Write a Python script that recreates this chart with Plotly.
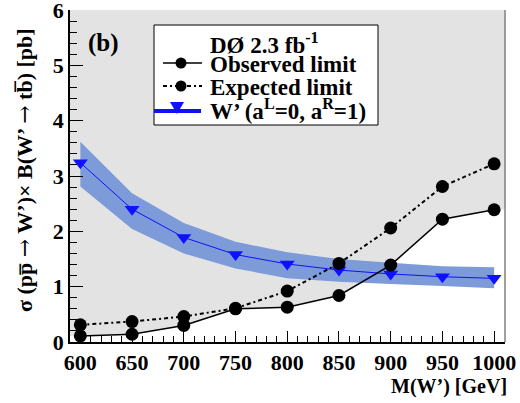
import plotly.graph_objects as go

# ---- data ----
mass = [600, 650, 700, 750, 800, 850, 900, 950, 1000]
observed = [0.11, 0.14, 0.30, 0.60, 0.63, 0.84, 1.39, 2.22, 2.39]
expected = [0.31, 0.37, 0.46, 0.61, 0.92, 1.42, 2.06, 2.81, 3.22]
theory = [3.24, 2.40, 1.89, 1.58, 1.41, 1.30, 1.23, 1.18, 1.15]
theory_up = [3.62, 2.69, 2.15, 1.81, 1.62, 1.50, 1.43, 1.37, 1.35]
theory_dn = [2.81, 2.04, 1.60, 1.33, 1.15, 1.09, 1.05, 1.01, 0.97]

x_ticks = [600, 650, 700, 750, 800, 850, 900, 950, 1000]
y_ticks = [0, 1, 2, 3, 4, 5, 6]

XMIN, XMAX = 590, 1010.5
YMIN, YMAX = 0, 6

FONT = "Liberation Serif"
GRAY = "#e3e3e3"
BAND = "#7c9bd8"
BLUE = "#1010ff"

# plot-area pixel geometry (for decorations)
L, R, T, B = 70, 505, 10, 342
W, H = 520, 403


def px(x):
    return (x - L) / (R - L)


def py(y):
    return (B - y) / (B - T)


fig = go.Figure()

# excluded region (above observed limit), gray
fx = [XMIN] + mass + [XMAX, XMAX, XMIN]
fy = [observed[0]] + observed + [observed[-1], YMAX, YMAX]
fig.add_trace(go.Scatter(x=fx, y=fy, fill="toself", fillcolor=GRAY, mode="none",
                         hoverinfo="skip", showlegend=False))

# theory band
fig.add_trace(go.Scatter(x=mass + mass[::-1], y=theory_up + theory_dn[::-1],
                         fill="toself", fillcolor=BAND, mode="none",
                         hoverinfo="skip", showlegend=False))

# theory line
fig.add_trace(go.Scatter(x=mass, y=theory, mode="lines+markers",
                         line=dict(color=BLUE, width=1),
                         marker=dict(symbol="triangle-down", size=13, color=BLUE),
                         showlegend=False))

# expected
fig.add_trace(go.Scatter(x=mass, y=expected, mode="lines+markers",
                         line=dict(color="black", width=2, dash="4px,3px,2px,3px"),
                         marker=dict(symbol="circle", size=13, color="black"),
                         showlegend=False))

# observed
fig.add_trace(go.Scatter(x=mass, y=observed, mode="lines+markers",
                         line=dict(color="black", width=1.5),
                         marker=dict(symbol="circle", size=13, color="black"),
                         showlegend=False))

tickfont = dict(family=FONT, size=22, color="black")

fig.update_xaxes(range=[XMIN, XMAX], tickmode="array", tickvals=x_ticks,
                 ticktext=["<b>%d</b>" % v for v in x_ticks],
                 ticks="inside", ticklen=11, tickwidth=1, tickcolor="black",
                 minor=dict(dtick=10, tick0=600, ticks="inside", ticklen=6, tickcolor="black"),
                 showline=True, linecolor="black", linewidth=1.5, ticklabeloverflow="allow",
                 showgrid=False, zeroline=False, tickfont=tickfont, automargin=False)
fig.update_yaxes(range=[YMIN, YMAX], tickmode="array", tickvals=y_ticks,
                 ticktext=["<b>%d</b>" % v for v in y_ticks],
                 ticks="inside", ticklen=13, tickwidth=1, tickcolor="black",
                 minor=dict(dtick=0.2, tick0=0, ticks="inside", ticklen=7, tickcolor="black"),
                 showline=True, linecolor="black", linewidth=1.5, ticklabeloverflow="allow",
                 showgrid=False, zeroline=False, tickfont=tickfont, automargin=False)

shapes = []
annotations = []

# right frame
shapes.append(dict(type="line", xref="paper", yref="paper", x0=1, x1=1, y0=0, y1=1,
                   line=dict(color="#808080", width=1.5)))

# legend box
shapes.append(dict(type="rect", xref="paper", yref="paper",
                   x0=px(154), x1=px(378), y0=py(125), y1=py(25),
                   line=dict(color="black", width=1), fillcolor="white", layer="above"))

rows = [43, 65, 87.5, 110]
labels = ["DØ 2.3 fb<sup>-1</sup>", "Observed limit", "Expected limit",
          "W’ (a<sup>L</sup>=0, a<sup>R</sup>=1)"]
for r, t in zip(rows, labels):
    annotations.append(dict(xref="paper", yref="paper", x=px(208), y=py(r),
                            xanchor="left", yanchor="middle", text="<b>%s</b>" % t,
                            showarrow=False,
                            font=dict(family=FONT, size=23, color="black")))

# legend samples
shapes.append(dict(type="line", xref="paper", yref="paper", x0=px(163), x1=px(202),
                   y0=py(63), y1=py(63), line=dict(color="black", width=1.5), layer="above"))
shapes.append(dict(type="line", xref="paper", yref="paper", x0=px(163), x1=px(202),
                   y0=py(86), y1=py(86), line=dict(color="black", width=2, dash="4px,3px,2px,3px"),
                   layer="above"))
for cy in (63, 86):
    shapes.append(dict(type="circle", xref="paper", yref="paper",
                       x0=px(181 - 5.5), x1=px(181 + 5.5), y0=py(cy + 5.5), y1=py(cy - 5.5),
                       fillcolor="black", line=dict(color="black", width=0), layer="above"))
shapes.append(dict(type="line", xref="paper", yref="paper", x0=px(154), x1=px(201),
                   y0=py(111), y1=py(111), line=dict(color=BLUE, width=4), layer="above"))
tri = "M %f %f L %f %f L %f %f Z" % (px(170), py(102), px(184), py(102), px(177), py(114))
shapes.append(dict(type="path", xref="paper", yref="paper", path=tri,
                   fillcolor=BLUE, line=dict(color=BLUE, width=0), layer="above"))

# (b)
annotations.append(dict(xref="paper", yref="paper", x=px(103), y=py(43),
                        xanchor="center", yanchor="middle", text="<b>(b)</b>", showarrow=False,
                        font=dict(family=FONT, size=25, color="black")))

# axis titles
annotations.append(dict(xref="paper", yref="paper", x=px(509), y=py(387),
                        xanchor="right", yanchor="middle", text="<b>M(W’) [GeV]</b>",
                        showarrow=False, font=dict(family=FONT, size=20, color="black")))
ARROW = '<span style="font-family:DejaVu Serif;font-weight:normal">→</span>'
ytitle = "<b>σ (pp\u0305 %s W’)× B(W’ %s tb\u0305) [pb]</b>" % (ARROW, ARROW)
annotations.append(dict(xref="paper", yref="paper", x=px(24), y=py(170),
                        xanchor="center", yanchor="middle", textangle=-90,
                        text=ytitle,
                        showarrow=False, font=dict(family=FONT, size=22, color="black")))

fig.update_layout(width=W, height=H,
                  margin=dict(l=L, r=W - R, t=T, b=H - B, autoexpand=False),
                  paper_bgcolor="white", plot_bgcolor="white",
                  shapes=shapes, annotations=annotations, showlegend=False)

fig.write_html("out.html")
